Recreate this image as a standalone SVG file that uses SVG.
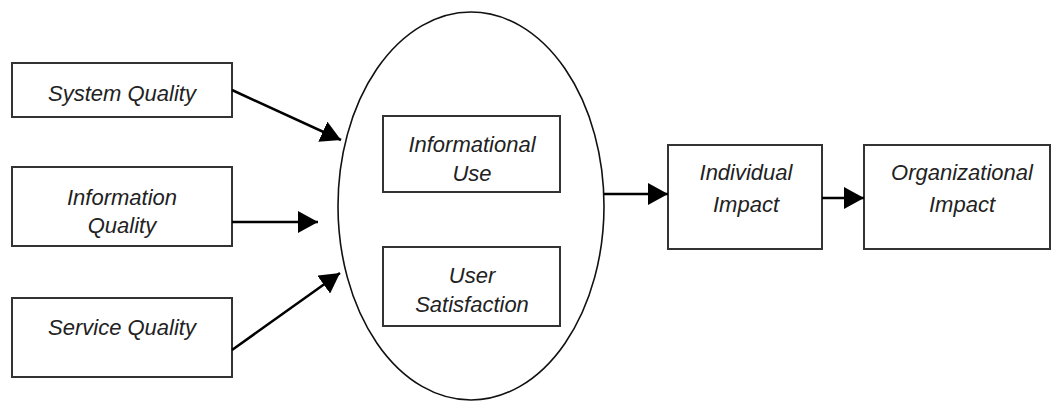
<svg xmlns="http://www.w3.org/2000/svg" width="1053" height="403" viewBox="0 0 1053 403">
  <defs>
    <marker id="arrow" viewBox="0 0 20 22" refX="20" refY="11" markerWidth="20" markerHeight="22" markerUnits="userSpaceOnUse" orient="auto">
      <path d="M0,0 L20,11 L0,22 z" fill="#000"/>
    </marker>
  </defs>
  <style>
    .box { fill: #fff; stroke: #333; stroke-width: 2; }
    .ell { fill: #fff; stroke: #111; stroke-width: 1.6; }
    .lbl { font-family: "Liberation Sans", Arial, sans-serif; font-style: italic; font-size: 22px; fill: #222; text-anchor: middle; }
    .conn { stroke: #000; stroke-width: 2.5; fill: none; marker-end: url(#arrow); }
  </style>
  <rect width="1053" height="403" fill="#fff"/>
  <g id="outcome-ellipse">
    <ellipse class="ell" cx="471" cy="206" rx="133" ry="194"/>
  </g>
  <g id="system-quality">
    <rect class="box" x="12" y="63" width="220" height="54"/>
    <text class="lbl" x="122" y="101">System Quality</text>
  </g>
  <g id="information-quality">
    <rect class="box" x="12" y="167" width="220" height="79"/>
    <text class="lbl" x="122" y="205">Information</text>
    <text class="lbl" x="122" y="233">Quality</text>
  </g>
  <g id="service-quality">
    <rect class="box" x="12" y="298" width="220" height="79"/>
    <text class="lbl" x="122" y="335">Service Quality</text>
  </g>
  <g id="informational-use">
    <rect class="box" x="383" y="116" width="177" height="76"/>
    <text class="lbl" x="472" y="152">Informational</text>
    <text class="lbl" x="472" y="181">Use</text>
  </g>
  <g id="user-satisfaction">
    <rect class="box" x="383" y="247" width="177" height="79"/>
    <text class="lbl" x="472" y="283">User</text>
    <text class="lbl" x="472" y="312">Satisfaction</text>
  </g>
  <g id="individual-impact">
    <rect class="box" x="668" y="145" width="154" height="104"/>
    <text class="lbl" x="746" y="180">Individual</text>
    <text class="lbl" x="746" y="212">Impact</text>
  </g>
  <g id="organizational-impact">
    <rect class="box" x="864" y="145" width="186" height="104"/>
    <text class="lbl" x="962" y="180">Organizational</text>
    <text class="lbl" x="962" y="212">Impact</text>
  </g>
  <g id="connectors">
    <line class="conn" x1="232" y1="90" x2="341" y2="140"/>
    <line class="conn" x1="232" y1="222" x2="318" y2="222"/>
    <line class="conn" x1="232" y1="350" x2="340" y2="273"/>
    <line class="conn" x1="604" y1="194" x2="668" y2="194"/>
    <line class="conn" x1="822" y1="198" x2="864" y2="198"/>
  </g>
</svg>
